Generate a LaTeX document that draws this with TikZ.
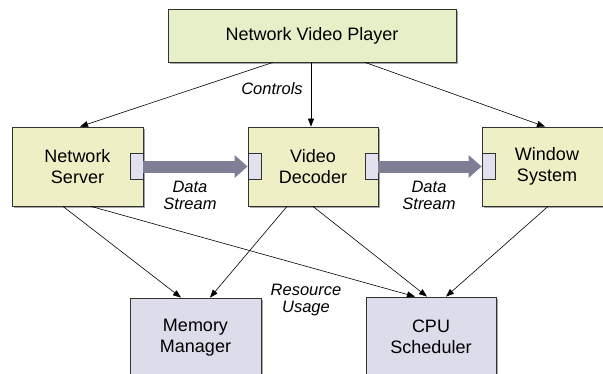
\documentclass[tikz,border=0pt]{standalone}
\usepackage{fontspec}
\setmainfont{Liberation Sans}
\usetikzlibrary{arrows.meta,shadows}
\definecolor{topfill}{RGB}{229,239,200}
\definecolor{midfill}{RGB}{239,239,198}
\definecolor{botfill}{RGB}{220,220,234}
\definecolor{portfill}{RGB}{226,226,238}
\definecolor{flowcol}{RGB}{126,126,150}
\definecolor{edgecol}{RGB}{50,50,50}
\begin{document}
\begin{tikzpicture}[x=1pt,y=-1pt,
  box/.style={draw=edgecol, line width=0.8pt, rectangle, align=center,
    font=\fontsize{18}{21}\selectfont, inner sep=0pt,
    drop shadow={shadow xshift=2pt, shadow yshift=-2pt, fill=black!35, opacity=1}},
  port/.style={draw=edgecol, line width=0.7pt, fill=portfill, rectangle, inner sep=0pt,
    minimum width=13pt, minimum height=26pt},
  ctrl/.style={draw=black, line width=0.6pt, -{Triangle[length=8pt,width=6pt]}},
  flow/.style={draw=flowcol, line width=12pt, -{Triangle[length=13pt,width=22pt]}},
  lbl/.style={font=\fontsize{16.5}{17}\selectfont\itshape, align=center, inner sep=0pt}]
\useasboundingbox (0,0) rectangle (603,373);
\node[box, fill=topfill, minimum width=288pt, minimum height=53pt] (nvp) at (312,35.5) {Network Video Player};
\node[box, fill=midfill, minimum width=131pt, minimum height=79pt] (ns) at (77.5,166.5) {Network\\Server};
\node[box, fill=midfill, minimum width=130pt, minimum height=79pt] (vd) at (313,166.5) {Video\\Decoder};
\node[box, fill=midfill, minimum width=130pt, minimum height=79pt] (ws) at (547,166.5) {Window\\System};
\node[box, fill=botfill, minimum width=131pt, minimum height=79pt] (mm) at (195.5,337.5) {Memory\\Manager};
\node[box, fill=botfill, minimum width=130pt, minimum height=79pt] (cpu) at (431,336.5) {CPU\\Scheduler};
\node[port, anchor=east] (nsout) at (ns.east) {};
\node[port, anchor=west] (vdin) at (vd.west) {};
\node[port, anchor=east] (vdout) at (vd.east) {};
\node[port, anchor=west] (wsin) at (ws.west) {};
\draw[flow] (nsout.east) -- (vdin.west);
\draw[flow] (vdout.east) -- (wsin.west);
\draw[ctrl] ([xshift=-39pt]nvp.south) -- ([xshift=2.5pt]ns.north);
\draw[ctrl] ([xshift=-1pt]nvp.south) -- ([xshift=-2pt]vd.north);
\draw[ctrl] ([xshift=53pt]nvp.south) -- ([xshift=-2pt]ws.north);
\draw[ctrl] ([xshift=-14.5pt]ns.south) -- ([xshift=-14.5pt]mm.north);
\draw[ctrl] ([xshift=13.5pt]ns.south) -- ([xshift=-16pt]cpu.north);
\draw[ctrl] ([xshift=-26pt]vd.south) -- ([xshift=14.5pt]mm.north);
\draw[ctrl] (vd.south) -- ([xshift=-4pt]cpu.north);
\draw[ctrl] ([xshift=1pt]ws.south) -- ([xshift=15pt]cpu.north);
\node[lbl] (lctrl) at (272,89) {Controls};
\node[lbl] (lds1) at (190,195) {Data\\Stream};
\node[lbl] (lds2) at (429,195) {Data\\Stream};
\node[lbl] (lres) at (306,300) {Resource\\Usage};
\end{tikzpicture}
\end{document}
